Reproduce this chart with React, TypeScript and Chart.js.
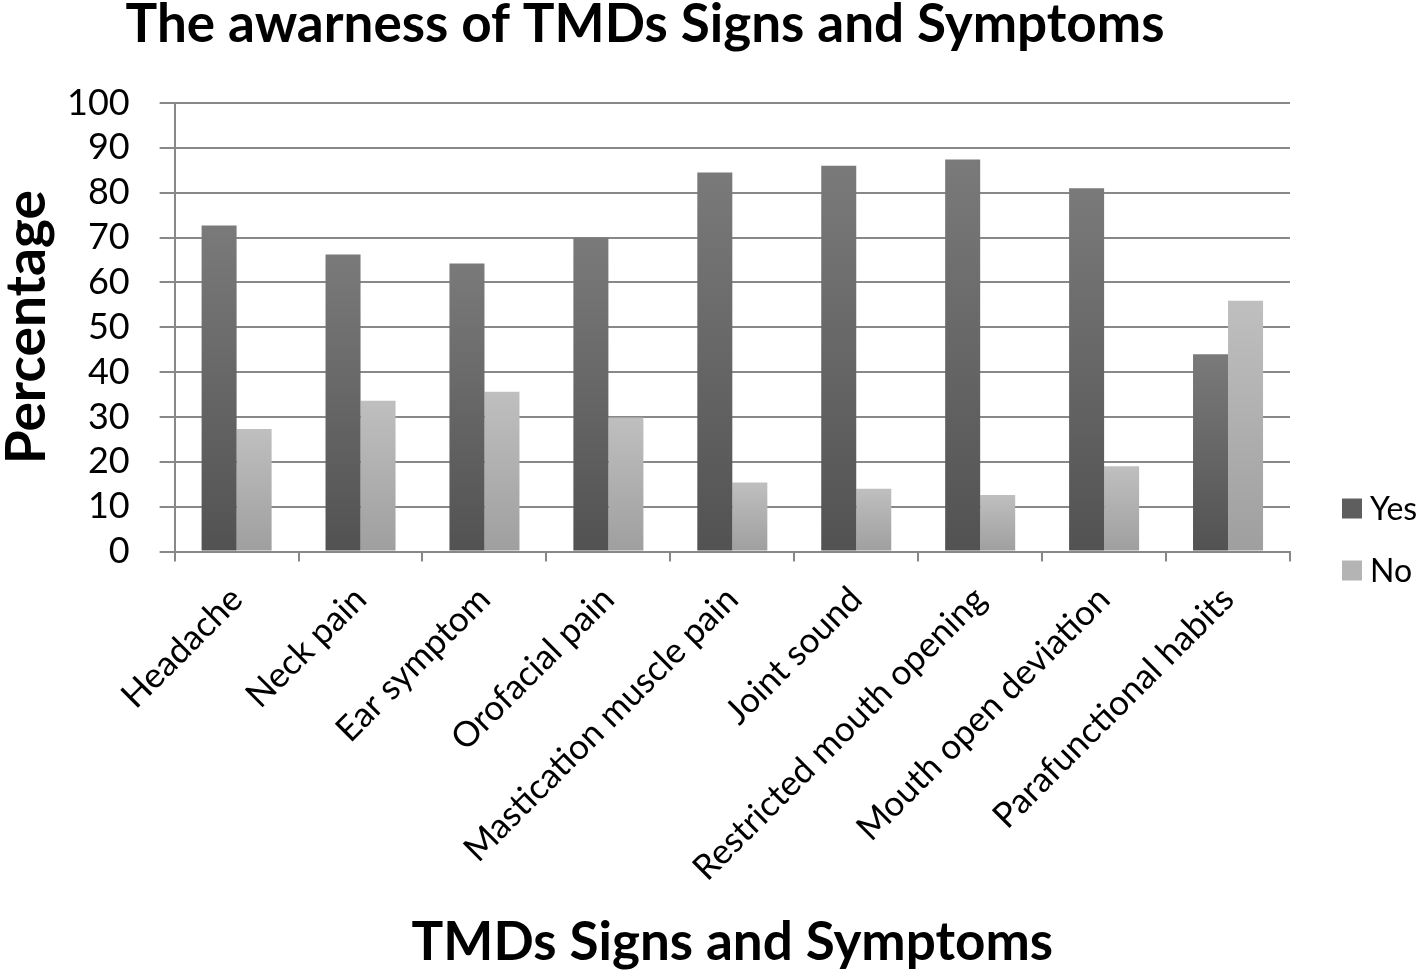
import React, { useEffect, useRef } from "react";
import { Chart, registerables } from "chart.js";

Chart.register(...registerables);

const categories = [
  "Headache",
  "Neck pain",
  "Ear symptom",
  "Orofacial pain",
  "Mastication muscle pain",
  "Joint sound",
  "Restricted mouth opening",
  "Mouth open deviation",
  "Parafunctional habits",
];
const yesValues = [72.7, 66.2, 64.2, 70.0, 84.5, 86.0, 87.4, 81.0, 44.0];
const noValues = [27.3, 33.6, 35.6, 29.9, 15.4, 14.0, 12.6, 19.0, 55.9];
const seriesNames = ["Yes", "No"];
const yTicks = [0, 10, 20, 30, 40, 50, 60, 70, 80, 90, 100];

const FONT = "Lato, 'Open Sans', 'Noto Sans', sans-serif";

function barGradient(top: string, bottom: string) {
  return (ctx: any) => {
    const chart = ctx.chart;
    const y = chart.scales?.y;
    const area = chart.chartArea;
    if (!y || !area || ctx.raw === undefined) return bottom;
    const yTop = y.getPixelForValue(ctx.raw);
    const yBot = y.getPixelForValue(0);
    if (!isFinite(yTop) || !isFinite(yBot) || yTop === yBot) return bottom;
    const g = chart.ctx.createLinearGradient(0, yTop, 0, yBot);
    g.addColorStop(0, top);
    g.addColorStop(1, bottom);
    return g;
  };
}

const legendColors = ["#5e5e5e", "#b4b4b4"];

const customLegend = {
  id: "customLegend",
  afterDraw(chart: any) {
    const { ctx, chartArea } = chart;
    const x = chartArea.right + 52;
    const ys = [chartArea.bottom - 43, chartArea.bottom + 19];
    ctx.save();
    ctx.font = `32px ${FONT}`;
    ctx.textBaseline = "middle";
    ctx.textAlign = "left";
    seriesNames.forEach((name, i) => {
      ctx.fillStyle = legendColors[i];
      ctx.fillRect(x, ys[i] - 10, 20, 20);
      ctx.fillStyle = "#000";
      ctx.fillText(name, x + 28, ys[i] + 1);
    });
    ctx.restore();
  },
};

export default function App() {
  const ref = useRef<HTMLCanvasElement>(null);
  useEffect(() => {
    if (!ref.current) return;
    const chart = new Chart(ref.current, {
      type: "bar",
      data: {
        labels: categories,
        datasets: [
          {
            label: seriesNames[0],
            data: yesValues,
            backgroundColor: barGradient("#7a7a7a", "#525252"),
            borderWidth: 0,
          },
          {
            label: seriesNames[1],
            data: noValues,
            backgroundColor: barGradient("#bfbfbf", "#9f9f9f"),
            borderWidth: 0,
          },
        ],
      },
      options: {
        animation: false,
        responsive: true,
        maintainAspectRatio: false,
        datasets: {
          bar: { categoryPercentage: 0.565, barPercentage: 1 },
        },
        layout: { padding: { left: 0, right: 127, top: 0, bottom: 0 } },
        plugins: {
          legend: { display: false },
          tooltip: { enabled: false },
          title: {
            display: true,
            text: "The awarness of TMDs Signs and Symptoms",
            color: "#000",
            font: { family: FONT, size: 53, weight: "bold", lineHeight: 1.0 },
            padding: { top: -2, bottom: 52 },
          },
        },
        scales: {
          x: {
            offset: true,
            grid: {
              display: true,
              drawOnChartArea: false,
              drawTicks: true,
              tickLength: 10,
              offset: true,
              color: "#888",
              lineWidth: 2,
            },
            border: { color: "#888", width: 2 },
            ticks: {
              color: "#000",
              font: { family: FONT, size: 35 },
              minRotation: 45,
              maxRotation: 45,
              autoSkip: false,
              padding: 17,
            },
            title: {
              display: true,
              text: "TMDs Signs and Symptoms",
              color: "#000",
              font: { family: FONT, size: 53, weight: "bold", lineHeight: 1.0 },
              padding: { top: 10, bottom: 4 },
            },
          },
          y: {
            min: 0,
            max: 100,
            afterBuildTicks: (axis: any) => {
              axis.ticks = yTicks.map((v) => ({ value: v }));
            },
            grid: {
              color: "#888",
              lineWidth: 2,
              drawTicks: true,
              tickLength: 15,
            },
            border: { color: "#888", width: 2 },
            ticks: {
              color: "#000",
              font: { family: FONT, size: 36 },
              padding: 30,
              autoSkip: false,
            },
            title: {
              display: true,
              text: "Percentage",
              color: "#000",
              font: { family: FONT, size: 55, weight: "bold", lineHeight: 1.0 },
              padding: { top: 0, bottom: -18 },
            },
          },
        },
      },
      plugins: [customLegend],
    });
    return () => chart.destroy();
  }, []);
  return (
    <div style={{ position: "fixed", left: 0, top: 0, width: "1417px", height: "973px", background: "#fff" }}>
      <canvas ref={ref} />
    </div>
  );
}
